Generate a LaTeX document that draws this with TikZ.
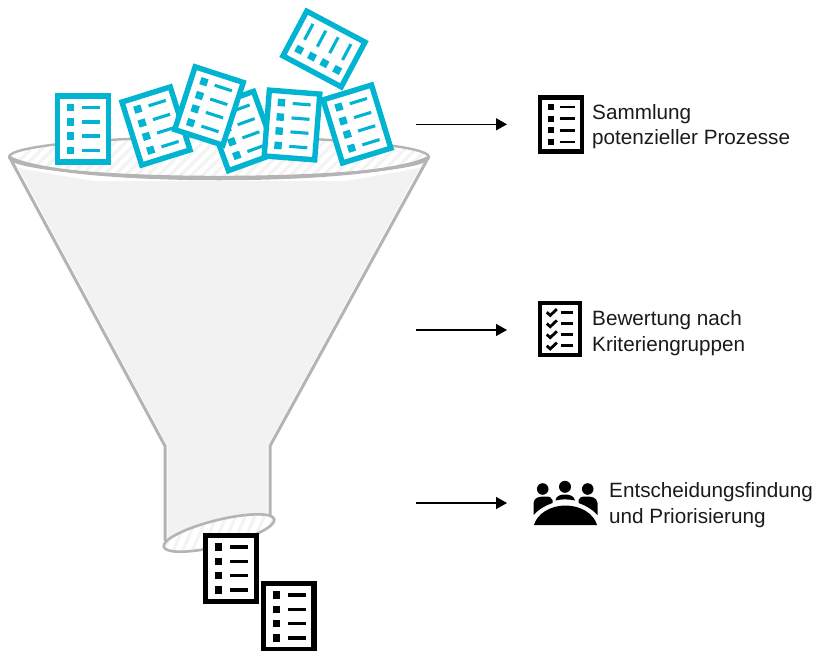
\documentclass[tikz,border=0pt]{standalone}
\usepackage{fontspec}
\setmainfont{Liberation Sans}
\usetikzlibrary{arrows.meta}
\definecolor{cyandoc}{HTML}{00B4D2}
\definecolor{funnelgrey}{HTML}{B4B4B4}
\definecolor{funnelfill}{HTML}{F2F2F2}
\definecolor{hatchgrey}{HTML}{F3F3F3}
\definecolor{textblack}{HTML}{1A1A1A}
\tikzset{
  flow/.style={line width=1.5pt,-{Triangle[length=11pt,width=12pt]},black},
  legend/.style={anchor=west,align=left,inner sep=0pt,font=\fontsize{20.7}{25.5}\selectfont,text=textblack},
  rimline/.style={draw=funnelgrey,line width=3pt},
  hatch/.style={hatchgrey,line width=3pt}
}
% centre x, centre y, angle, colour, scale
\newcommand{\docicon}[5]{%
  \begin{scope}[shift={(#1,#2)},rotate=#3,scale=#5]
    \draw[draw=#4,fill=white,line width=#5*5.4pt] (-25.3,-33) rectangle (25.3,33);
    \foreach \yy in {-21.5,-7,7,21.5}{
      \fill[#4] (-16,\yy-3.7) rectangle (-8.6,\yy+3.7);
      \draw[#4,line width=#5*3.1pt] (-1,\yy) -- (17,\yy);
    }
  \end{scope}}
\newcommand{\checkicon}[5]{%
  \begin{scope}[shift={(#1,#2)},rotate=#3,scale=#5]
    \draw[draw=#4,fill=white,line width=#5*5.4pt] (-25.3,-33) rectangle (25.3,33);
    \foreach \yy in {-21.5,-7,7,21.5}{
      \draw[#4,line width=#5*3.6pt] (-17,\yy) -- (-12.5,\yy+4) -- (-4,\yy-4);
      \draw[#4,line width=#5*3.4pt] (1,\yy) -- (17,\yy);
    }
  \end{scope}}
\begin{document}
\begin{tikzpicture}[x=1pt,y=-1pt]
\useasboundingbox (0,0) rectangle (815,651);
% funnel body
\fill[funnelfill] (18.5,168) .. controls (40,172) and (70,177) .. (93,181) -- (345,181)
   .. controls (368,177) and (398,172) .. (419.5,168) -- (267.5,446) -- (267.5,518) -- (167.5,542) -- (167.5,446) -- cycle;
\draw[rimline,line join=miter] (11,160) -- (165,446) -- (165,541);
\draw[rimline,line join=miter] (427,160) -- (270,446) -- (270,517);
% rim
\begin{scope}
  \clip (219,157) ellipse [x radius=210,y radius=20];
  \fill[white] (0,130) rectangle (440,180);
  \foreach \xx in {0,11,...,480}{ \draw[hatch] (\xx,180) -- (\xx+50,130); }
\end{scope}
\draw[rimline,line width=2.4pt] (219,157) ellipse [x radius=210,y radius=20];
\draw[rimline] (9,157) .. controls (60,186) and (378,186) .. (429,157);
% lower opening
\begin{scope}[shift={(219,533)},rotate=14]
  \begin{scope}
    \clip (0,0) ellipse [x radius=57,y radius=13];
    \fill[white] (-60,-15) rectangle (60,15);
    \foreach \xx in {-80,-69,...,80}{ \draw[hatch] (\xx,18) -- (\xx+28,-18); }
  \end{scope}
  \draw[rimline,line width=2.6pt] (0,0) ellipse [x radius=57,y radius=13];
\end{scope}
% documents falling in
\docicon{241}{131}{20}{cyandoc}{1}
\docicon{83}{129}{0}{cyandoc}{1}
\docicon{156}{126}{17.4}{cyandoc}{1}
\docicon{209}{106}{-18}{cyandoc}{1}
\docicon{292}{125}{-4.5}{cyandoc}{1}
\docicon{357}{124}{17}{cyandoc}{1}
\docicon{324}{49}{62}{cyandoc}{1}
% documents coming out
\docicon{231}{568.5}{0}{black}{1}
\docicon{288.5}{616.5}{0}{black}{1}
% arrows
\coordinate (a1s) at (416,124.3); \coordinate (a1e) at (507,124.3);
\coordinate (a2s) at (416,330); \coordinate (a2e) at (507,330);
\coordinate (a3s) at (416,503); \coordinate (a3e) at (507,503);
\draw[flow] (a1s) -- (a1e);
\draw[flow] (a2s) -- (a2e);
\draw[flow] (a3s) -- (a3e);
% legend icons
\docicon{561}{124.5}{0}{black}{0.82}
\checkicon{560}{329}{0}{black}{0.78}
% people icon
\fill (542.7,489) circle (5.8);
\fill (565,486.8) circle (6);
\fill (587.7,489) circle (5.8);
\fill (533.5,515) -- (533.5,503) .. controls (534,497) and (540,496.5) .. (545,496.5)
      .. controls (549,496.5) and (552,497) .. (552.5,500) -- (552.5,503) .. controls (544,506) and (538,510) .. cycle;
\fill (597.5,515) -- (597.5,503) .. controls (597,497) and (591,496.5) .. (586,496.5)
      .. controls (582,496.5) and (579,497) .. (578.5,500) -- (578.5,503) .. controls (587,506) and (593,510) .. cycle;
\fill (555.5,500.5) .. controls (556,496) and (560,494.5) .. (565,494.5)
      .. controls (570,494.5) and (574,496) .. (575,500.5) .. controls (569,499) and (561,499) .. cycle;
\fill (534,525) .. controls (537,514) and (550,505.5) .. (565.5,505.5)
      .. controls (581,505.5) and (594,514) .. (597,525) -- cycle;
% labels
\node[legend] (t1) at (592,126.5) {Sammlung\\potenzieller Prozesse};
\node[legend] (t2) at (592,333) {Bewertung nach\\Kriteriengruppen};
\node[legend] (t3) at (609,505) {Entscheidungsfindung\\und Priorisierung};
\end{tikzpicture}
\end{document}
